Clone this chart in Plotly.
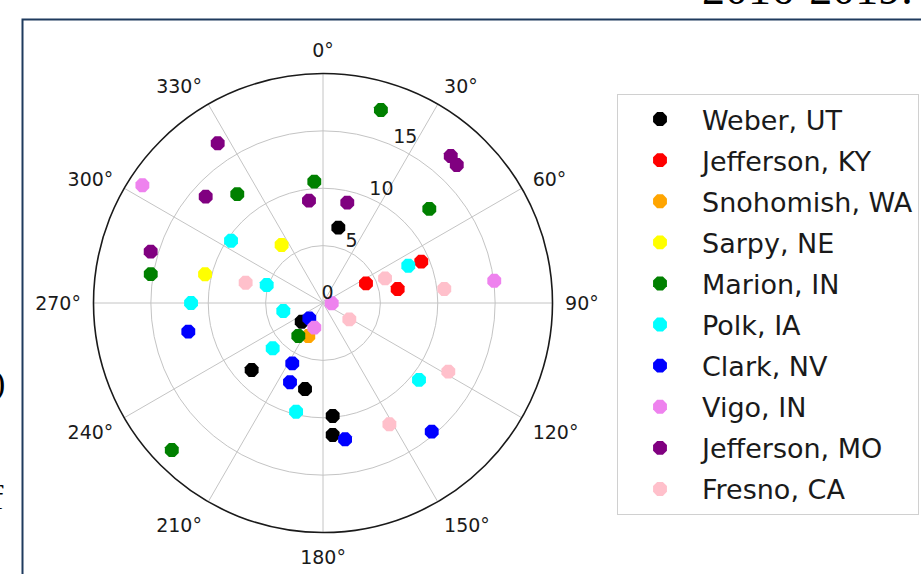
import plotly.graph_objects as go

# County series: radius values and angles (degrees, clockwise from north)
counties = ["Weber, UT", "Jefferson, KY", "Snohomish, WA", "Sarpy, NE", "Marion, IN",
            "Polk, IA", "Clark, NV", "Vigo, IN", "Jefferson, MO", "Fresno, CA"]
colors = ["black", "red", "orange", "yellow", "green",
          "cyan", "blue", "violet", "purple", "pink"]

weber_r = [6.70, 2.47, 8.53, 7.66, 9.88, 11.53]
weber_theta = [11.5, 228.7, 226.8, 191.8, 175.1, 175.8]

jefferson_ky_r = [4.12, 6.62, 9.29]
jefferson_ky_theta = [65.4, 79.4, 67.2]

snohomish_r = [3.15]
snohomish_theta = [204.0]

sarpy_r = [6.21, 10.58]
sarpy_theta = [324.5, 283.7]

marion_r = [17.56, 10.60, 12.08, 12.37, 15.22, 18.38, 3.59]
marion_theta = [16.7, 355.9, 321.8, 48.5, 279.5, 225.8, 216.8]

polk_r = [9.68, 5.15, 11.50, 3.53, 5.90, 9.76, 8.11, 10.72]
polk_theta = [304.1, 287.7, 270.0, 258.6, 228.0, 193.9, 66.4, 128.7]

clark_r = [12.00, 1.79, 5.90, 7.48, 12.03, 14.68]
clark_theta = [258.0, 221.8, 207.0, 202.6, 170.8, 139.8]

vigo_r = [18.79, 15.05, 0.76, 2.28]
vigo_theta = [303.1, 82.6, 92.0, 199.4]

jefferson_mo_r = [16.67, 13.80, 15.67, 9.00, 9.00, 16.97, 16.75]
jefferson_mo_theta = [326.6, 312.2, 286.6, 352.2, 13.6, 41.0, 44.1]

fresno_r = [6.97, 5.82, 10.64, 2.70, 12.45, 12.05]
fresno_theta = [284.7, 68.3, 83.4, 121.8, 118.7, 151.3]

series_r = [weber_r, jefferson_ky_r, snohomish_r, sarpy_r, marion_r,
            polk_r, clark_r, vigo_r, jefferson_mo_r, fresno_r]
series_theta = [weber_theta, jefferson_ky_theta, snohomish_theta, sarpy_theta, marion_theta,
                polk_theta, clark_theta, vigo_theta, jefferson_mo_theta, fresno_theta]

angle_ticks = list(range(0, 360, 30))
angle_labels = [f"{a}°" for a in angle_ticks]
radial_ticks = [0, 5, 10, 15]
r_max = 20

W, H = 921, 574

fig = go.Figure()
for i, (name, color) in enumerate(zip(counties, colors)):
    fig.add_trace(go.Scatterpolar(
        r=series_r[i], theta=series_theta[i], mode="markers", name=name,
        legendgroup=name,
        marker=dict(color=color, size=15, symbol="octagon", line=dict(width=0)),
    ))

# Label-only radial axis layer (no marks), nudged so the labels sit just
# beyond each ring along the 22.5° label direction
fig.add_trace(go.Scatterpolar(r=[], theta=[], subplot="polar2", showlegend=False,
                              hoverinfo="skip", mode="markers"))


def domain(cx, cy, R):
    return dict(x=[(cx - R) / W, (cx + R) / W], y=[1 - (cy + R) / H, 1 - (cy - R) / H])


# Centre (323, 303) px, outer radius ~229.5 px
cx, cy, R = 323, 303, 229.5
fig.update_layout(
    width=W, height=H,
    margin=dict(l=0, r=0, t=0, b=0, autoexpand=False),
    paper_bgcolor="white",
    font=dict(family="DejaVu Sans", color="#1a1a1a"),
    polar=dict(
        domain=domain(cx, cy, R),
        bgcolor="white",
        angularaxis=dict(
            rotation=90, direction="clockwise",
            tickmode="array", tickvals=angle_ticks, ticktext=angle_labels,
            tickfont=dict(size=19, color="#1a1a1a"),
            ticks="outside", ticklen=8, tickcolor="rgba(0,0,0,0)",
            showline=True, linecolor="#1a1a1a", linewidth=1.6,
            showgrid=True, gridcolor="#c4c4c4", gridwidth=1,
        ),
        radialaxis=dict(
            range=[0, r_max], tickmode="array", tickvals=radial_ticks,
            angle=67.5, showticklabels=False,
            showline=False, ticks="",
            showgrid=True, gridcolor="#c4c4c4", gridwidth=1,
        ),
    ),
    polar2=dict(
        domain=domain(cx - 10.5, cy - 17.2, R),
        bgcolor="rgba(0,0,0,0)",
        angularaxis=dict(visible=False, rotation=90, direction="clockwise"),
        radialaxis=dict(
            range=[0, r_max], tickmode="array", tickvals=radial_ticks,
            ticktext=[str(v) for v in radial_ticks],
            angle=65.4, side="clockwise", tickangle=65.4,
            tickfont=dict(size=19, color="#1a1a1a"),
            showline=False, ticks="", showgrid=False,
        ),
    ),
    legend=dict(
        x=617 / W, y=1 - 94 / H, xanchor="left", yanchor="top",
        font=dict(size=27, family="DejaVu Sans", color="#1a1a1a"),
        bgcolor="white", bordercolor="#d0d0d0", borderwidth=1,
        tracegroupgap=3, traceorder="grouped", itemwidth=74,
    ),
    shapes=[dict(
        type="rect", xref="paper", yref="paper",
        x0=22.5 / W, x1=1.05, y0=-0.05, y1=1 - 19.5 / H,
        line=dict(color="#1f3b5e", width=2), fillcolor="rgba(0,0,0,0)",
    )],
    annotations=[
        dict(text="2016-2019.", xref="paper", yref="paper", x=700 / W, y=1 - 16 / H,
             xanchor="left", yanchor="bottom", showarrow=False,
             font=dict(family="Liberation Serif", size=46, color="black")),
        dict(text=")", xref="paper", yref="paper", x=7 / W, y=1 - 383 / H,
             xanchor="right", yanchor="middle", showarrow=False,
             font=dict(family="Liberation Serif", size=34, color="black")),
        dict(text="f", xref="paper", yref="paper", x=6 / W, y=1 - 497 / H,
             xanchor="right", yanchor="middle", showarrow=False,
             font=dict(family="Liberation Serif", size=34, color="black")),
    ],
)

fig.write_html("out.html")
